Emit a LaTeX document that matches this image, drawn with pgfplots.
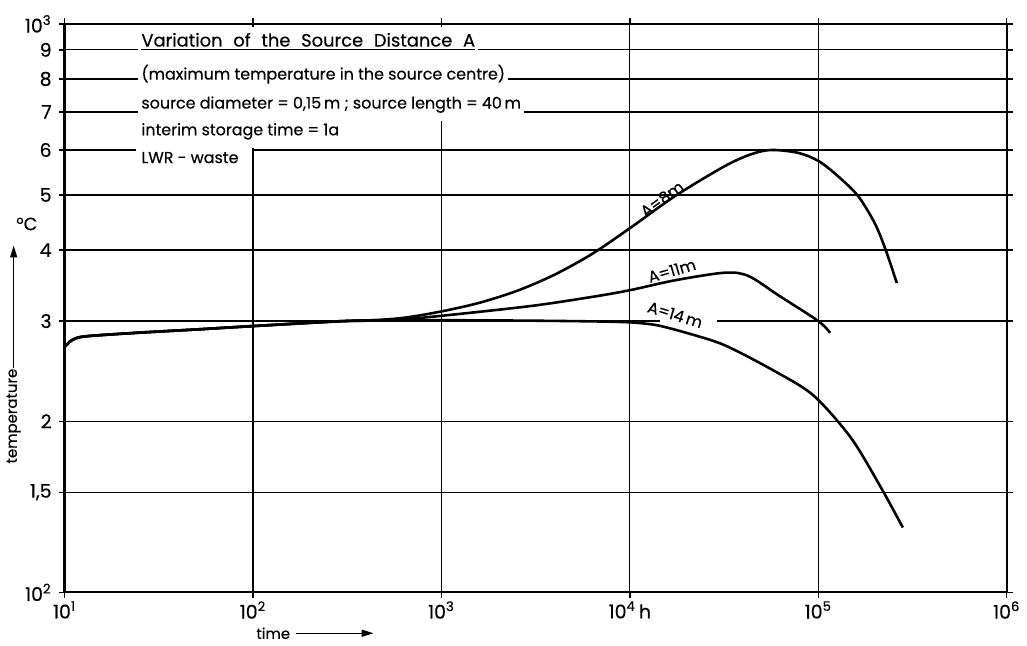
\documentclass[border=0pt]{standalone}
\usepackage{fontspec}
\setmainfont{Poppins}[FakeBold=0.35]
\usepackage{pgfplots}
\pgfplotsset{compat=1.18}
\usetikzlibrary{arrows.meta}

\newcommand{\lbl}{\fontsize{8}{9}\selectfont}

\begin{document}
\begin{tikzpicture}
\begin{axis}[
  xmode=log, ymode=log,
  scale only axis,
  width=474pt, height=286pt,
  xmin=10, xmax=1e6, ymin=100, ymax=1000,
  xtick={10,100,1000,10000,100000,1000000},
  xticklabels={10\textsuperscript{1},10\textsuperscript{2},10\textsuperscript{3},10\textsuperscript{4}\,h,10\textsuperscript{5},10\textsuperscript{6}},
  ytick={100,150,200,300,400,500,600,700,800,900,1000},
  yticklabels={10\textsuperscript{2},{1,5},2,3,4,5,6,7,8,9,10\textsuperscript{3}},
  xminorticks=false, yminorticks=false,
  grid=major,
  major grid style={black, line width=0.6pt},
  axis line style={line width=1.1pt},
  tick style={black, line width=0.7pt},
  tick align=outside,
  major tick length=3pt,
  ticklabel style={font=\fontsize{9.5}{10}\selectfont},
  xticklabel style={yshift=2pt},
  clip=false,
]
% gaps in the grid behind the text block
\draw[white, line width=2.5pt] (axis cs:100,606) -- (axis cs:100,986);
\draw[white, line width=2.5pt] (axis cs:1000,675) -- (axis cs:1000,986);
\draw[white, line width=2pt] (axis cs:24,600) -- (axis cs:99,600);
\draw[white, line width=2pt] (axis cs:14500,300) -- (axis cs:29000,300);

\node[anchor=base west, fill=white, inner sep=1.5pt, font=\fontsize{9}{10}\selectfont] at (rel axis cs:0.078,0.960) {\spaceskip=5.4pt\underline{Variation of the Source Distance A}};
\node[anchor=base west, fill=white, inner sep=1.5pt, font=\lbl] at (rel axis cs:0.078,0.902) {(maximum temperature in the source centre)};
\node[anchor=base west, fill=white, inner sep=1.5pt, font=\lbl] at (rel axis cs:0.078,0.851) {source diameter = 0,15\,m ; source length = 40\,m};
\node[anchor=base west, fill=white, inner sep=1.5pt, font=\lbl] at (rel axis cs:0.078,0.804) {interim storage time = 1a};
\node[anchor=base west, fill=white, inner sep=1.5pt, font=\lbl] at (rel axis cs:0.078,0.755) {LWR - waste};

% A = 8 m
\addplot[black, line width=1.3pt, smooth] coordinates {
 (10,270) (11,278) (12.9,282) (23.7,286) (50,290) (100,294) (304,300) (400,300.5)
 (631,304) (1000,312) (1585,323) (2512,339) (3981,362) (6310,394) (10000,437)
 (17400,498) (31900,562) (44200,590) (56500,600) (78300,593) (100000,574)
 (126000,541) (162500,498) (200000,445) (228600,399) (261000,350)};
% A = 11 m
\addplot[black, line width=1.3pt, smooth] coordinates {
 (10,270) (11,278) (12.9,282) (23.7,286) (50,290) (100,294) (304,300) (600,302)
 (1000,306.5) (3000,319) (6340,331) (10000,340) (17400,354) (31900,365)
 (42700,360) (61500,333) (100000,300) (115600,286)};
% A = 14 m
\addplot[black, line width=1.3pt, smooth] coordinates {
 (10,270) (11,278) (12.9,282) (23.7,286) (50,290) (100,294) (304,300) (1000,301)
 (3000,300.5) (7000,299.5) (10000,298.5) (12000,297) (14300,294.5) (20000,286)
 (31900,272) (58600,245) (94200,222) (149000,187) (214700,153) (281000,130)};

\node[rotate=36, font=\lbl] at (axis cs:14800,492) {A=8m};
\node[rotate=16, font=\lbl] at (axis cs:16700,368) {A=11m};
\node[rotate=-17, font=\lbl] at (axis cs:17400,308) {A=14\,m};

% axis labels
\node[rotate=90, font=\fontsize{7.5}{9}\selectfont] at (rel axis cs:-0.054,0.31) {temperature};
\draw[-{Triangle[length=6pt,width=3.5pt]}, line width=0.6pt] (rel axis cs:-0.054,0.395) -- (rel axis cs:-0.054,0.61);
\node[font=\fontsize{9}{10}\selectfont] at (rel axis cs:-0.040,0.648) {°C};
\node[font=\fontsize{7.5}{9}\selectfont] at (rel axis cs:0.2215,-0.072) {time};
\draw[-{Triangle[length=6pt,width=3.5pt]}, line width=0.6pt] (rel axis cs:0.246,-0.072) -- (rel axis cs:0.328,-0.072);
\end{axis}
% extra room above the frame, as in the reference
\path ([yshift=12pt]current axis.north);
\end{tikzpicture}
\end{document}
